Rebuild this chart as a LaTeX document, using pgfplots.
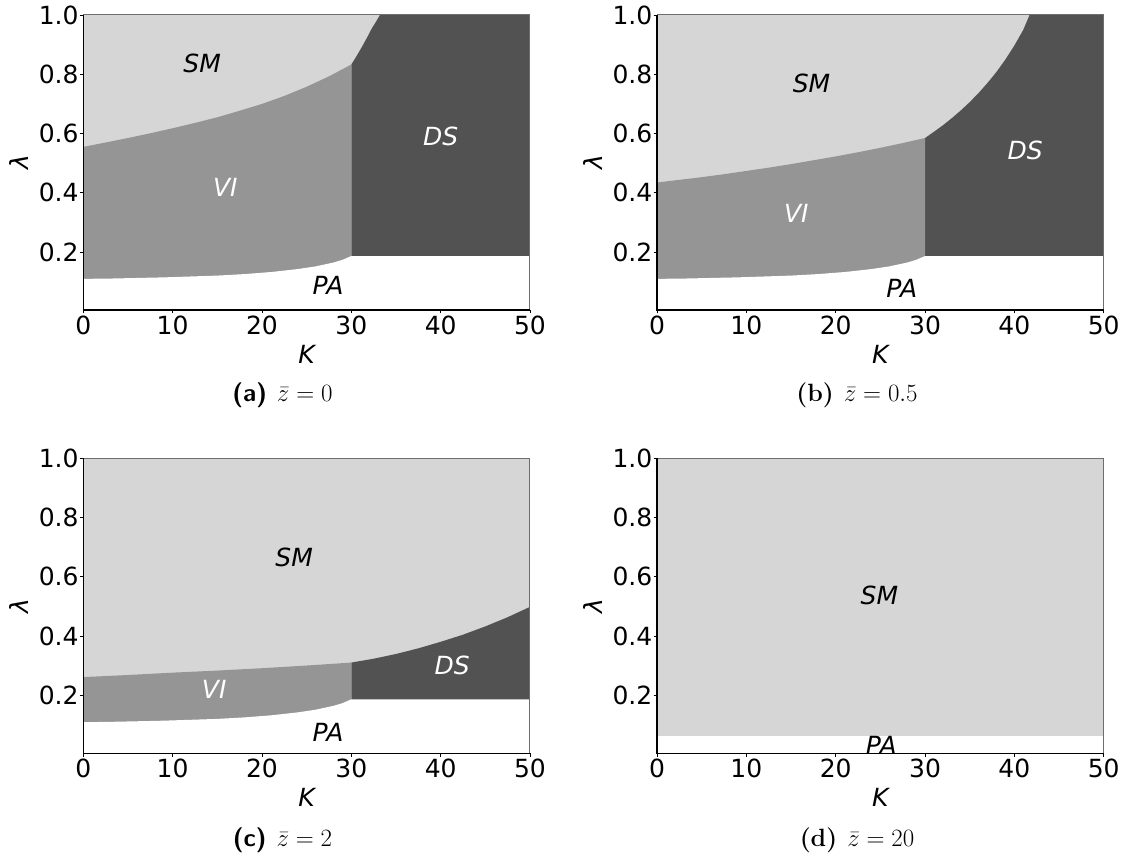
\documentclass[border=0pt]{standalone}
\usepackage{fontspec}
\usepackage{pgfplots}
\pgfplotsset{compat=1.18}
\newfontfamily\dejavu{DejaVu Sans}
\newfontfamily\lmssbf{lmsans10-bold.otf}
\definecolor{smc}{RGB}{214,214,214}
\definecolor{vic}{RGB}{149,149,149}
\definecolor{dsc}{RGB}{82,82,82}
\definecolor{framegray}{RGB}{110,110,110}
\tikzset{reg/.style={font=\dejavu\itshape\fontsize{25}{30}\selectfont}}
\pgfplotsset{
  phase/.style={
    scale only axis, width=446.7pt, height=295pt,
    anchor=south west,
    xmin=0, xmax=50, ymin=0.005, ymax=1,
    xtick={0,10,20,30,40,50}, xticklabels={0,10,20,30,40,50},
    ytick={0.2,0.4,0.6,0.8,1.0}, yticklabels={0.2,0.4,0.6,0.8,1.0},
    tick align=outside, xtick pos=left, ytick pos=left,
    major tick length=3.5pt,
    tick style={black, line width=0.8pt},
    tick label style={font=\dejavu\fontsize{25}{30}\selectfont},
    xticklabel style={inner sep=2pt},
    yticklabel style={inner sep=1pt},
    axis line style={draw=none},
    axis on top,
    clip=false,
    xlabel={\dejavu\itshape K}, ylabel={\dejavu\itshape λ},
    label style={font=\fontsize{25}{30}\selectfont},
    xlabel style={at={(axis description cs:0.5,-0.149)}, anchor=center},
    ylabel style={at={(axis description cs:-0.143,0.5)}, anchor=center},
  },
}
\newcommand{\frameaxis}{%
  \draw[framegray, line width=1pt] (rel axis cs:0,1) -- (rel axis cs:1,1) -- (rel axis cs:1,0);
  \draw[black, line width=1.1pt] (rel axis cs:0,1) -- (rel axis cs:0,0) -- (rel axis cs:1,0);
}
% PA / VI boundary (same in a, b, c), then flat DS floor
\newcommand{\paregion}{%
  \addplot[fill=white, draw=none] coordinates {(0,0.005)(0,0.110)(3,0.111)(6,0.113)(9,0.115)(12,0.118)(15,0.121)(18,0.126)(21,0.133)(24,0.143)(26,0.152)(28,0.165)(29,0.174)(30,0.187)(50,0.187)(50,0.005)} -- cycle;
}
\begin{document}
\begin{tikzpicture}
\useasboundingbox (0,0) rectangle (1128pt,861pt);

% (a)
\begin{axis}[phase, at={(83.3pt,551pt)}]
\addplot[fill=smc, draw=none] coordinates {(0,0.005)(50,0.005)(50,1)(0,1)} -- cycle;
\addplot[fill=dsc, draw=none] coordinates {(30,0.005)(50,0.005)(50,1)(33.2,1)(32.8,0.979)(32.3,0.955)(31.8,0.926)(31.2,0.893)(30.6,0.862)(30,0.833)} -- cycle;
\addplot[fill=vic, draw=none] coordinates {(0,0.005)(30,0.005)(30,0.833)(27.5,0.793)(25,0.758)(22.5,0.727)(20,0.700)(17.5,0.677)(15,0.655)(12.5,0.636)(10,0.618)(7.5,0.601)(5,0.585)(2.5,0.570)(0,0.555)} -- cycle;
\paregion
\frameaxis
\node[reg, black] at (axis cs:13.3,0.837) {SM};
\node[reg, white] at (axis cs:15.9,0.420) {VI};
\node[reg, white] at (axis cs:40.0,0.591) {DS};
\node[reg, black] at (axis cs:27.4,0.088) {PA};
\end{axis}

% (b)
\begin{axis}[phase, at={(657pt,551pt)}]
\addplot[fill=smc, draw=none] coordinates {(0,0.005)(50,0.005)(50,1)(0,1)} -- cycle;
\addplot[fill=dsc, draw=none] coordinates {(30,0.005)(50,0.005)(50,1)(41.7,1)(41,0.950)(40,0.897)(39,0.850)(38,0.808)(37,0.771)(36,0.737)(35,0.706)(34,0.678)(33,0.652)(32,0.628)(31,0.606)(30,0.585)} -- cycle;
\addplot[fill=vic, draw=none] coordinates {(0,0.005)(30,0.005)(30,0.585)(27.5,0.568)(25,0.552)(22.5,0.537)(20,0.523)(17.5,0.510)(15,0.497)(12.5,0.485)(10,0.474)(7.5,0.463)(5,0.453)(2.5,0.444)(0,0.435)} -- cycle;
\paregion
\frameaxis
\node[reg, black] at (axis cs:17.3,0.769) {SM};
\node[reg, white] at (axis cs:15.6,0.330) {VI};
\node[reg, white] at (axis cs:41.2,0.544) {DS};
\node[reg, black] at (axis cs:27.4,0.077) {PA};
\end{axis}

% (c)
\begin{axis}[phase, at={(83.3pt,107.7pt)}]
\addplot[fill=smc, draw=none] coordinates {(0,0.005)(50,0.005)(50,1)(0,1)} -- cycle;
\addplot[fill=dsc, draw=none] coordinates {(30,0.005)(50,0.005)(50,0.499)(47.5,0.464)(45,0.433)(42.5,0.405)(40,0.381)(37.5,0.359)(35,0.340)(32.5,0.324)(30,0.311)} -- cycle;
\addplot[fill=vic, draw=none] coordinates {(0,0.005)(30,0.005)(30,0.311)(25,0.301)(20,0.292)(15,0.284)(10,0.277)(5,0.269)(0,0.262)} -- cycle;
\paregion
\frameaxis
\node[reg, black] at (axis cs:23.6,0.667) {SM};
\node[reg, white] at (axis cs:14.65,0.222) {VI};
\node[reg, white] at (axis cs:41.3,0.300) {DS};
\node[reg, black] at (axis cs:27.4,0.076) {PA};
\end{axis}

% (d)
\begin{axis}[phase, at={(657pt,107.7pt)}]
\addplot[fill=smc, draw=none] coordinates {(0,0.064)(50,0.064)(50,1)(0,1)} -- cycle;
\frameaxis
\node[reg, black] at (axis cs:24.9,0.538) {SM};
\node[reg, black] at (axis cs:25.1,0.031) {PA};
\end{axis}

% captions
\node[font=\fontsize{25}{30}\selectfont] at (282.5pt,466pt) {{\lmssbf (a)}\hspace{0.4em}$\bar{z}=0$};
\node[font=\fontsize{25}{30}\selectfont] at (857pt,466pt) {{\bfseries (b)}\hspace{0.4em}$\bar{z}=0.5$};
\node[font=\fontsize{25}{30}\selectfont] at (282.5pt,21pt) {{\lmssbf (c)}\hspace{0.4em}$\bar{z}=2$};
\node[font=\fontsize{25}{30}\selectfont] at (857pt,21pt) {{\bfseries (d)}\hspace{0.4em}$\bar{z}=20$};
\end{tikzpicture}
\end{document}
